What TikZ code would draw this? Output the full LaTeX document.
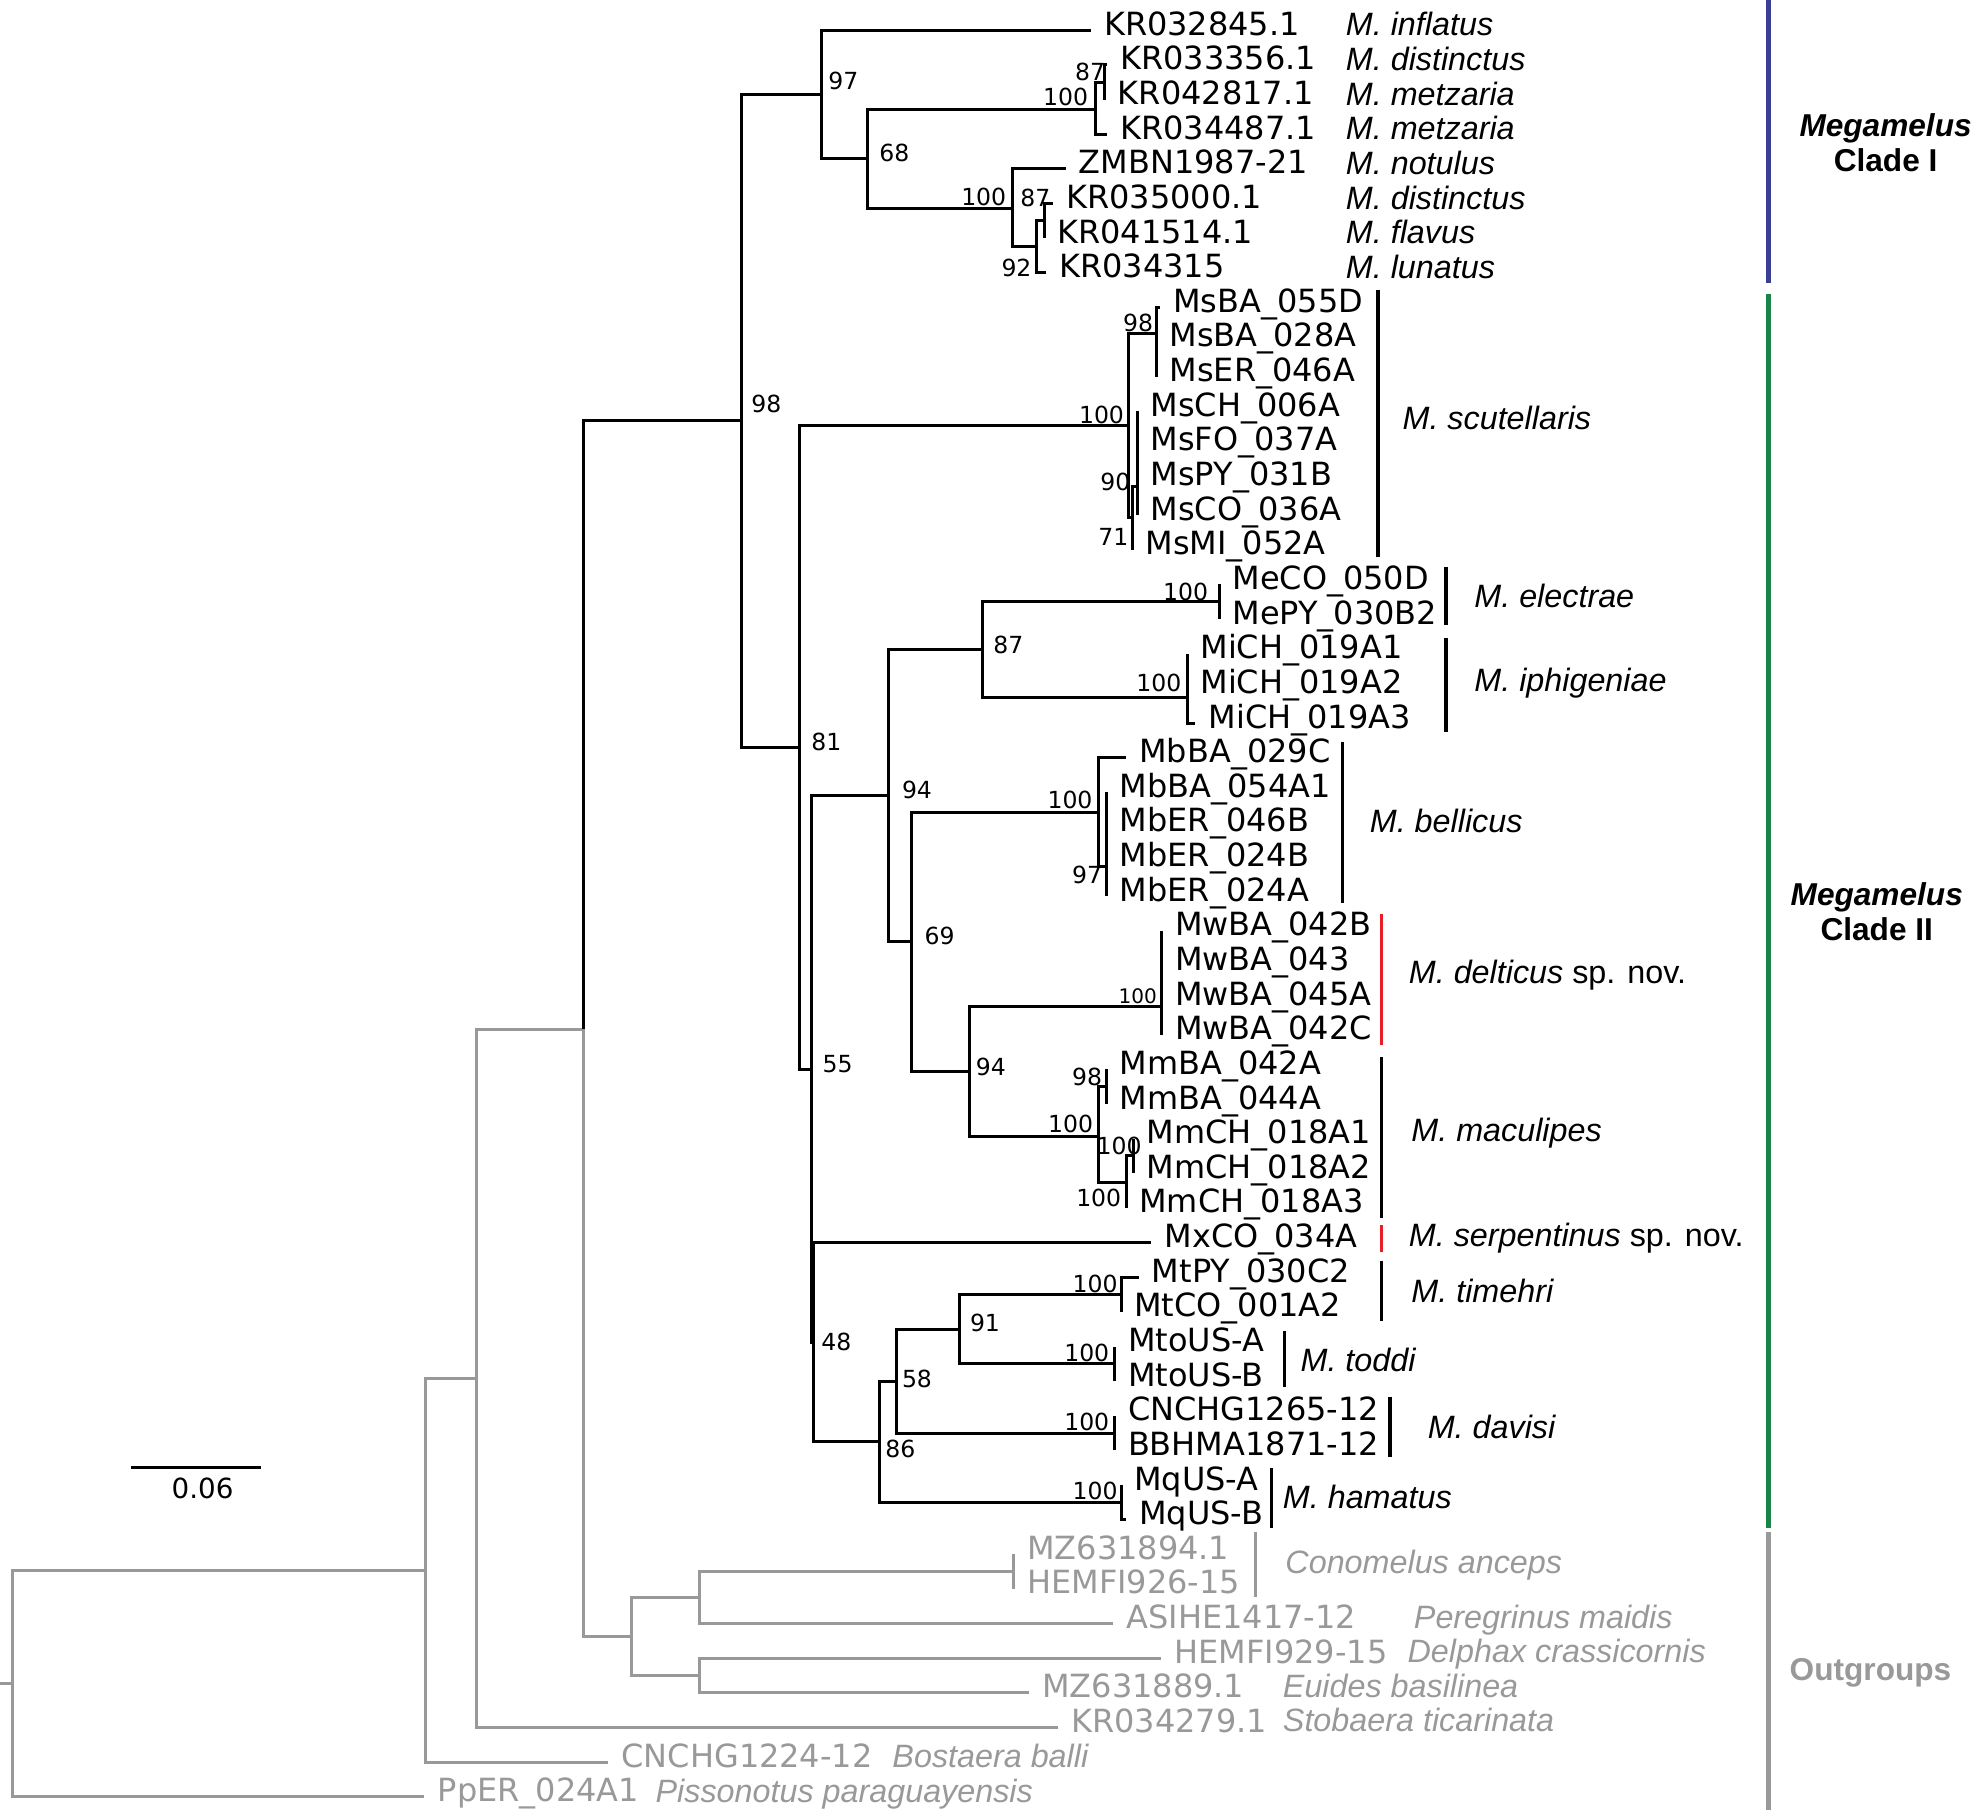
\documentclass[tikz,border=0pt]{standalone}
\usepackage{fontspec}
\setmainfont{Liberation Sans}
\newfontfamily\tipfont{DejaVu Sans}
\usepackage{tikz}
\usetikzlibrary{positioning}
\colorlet{ogcol}{black!40}
\definecolor{cladeIcol}{RGB}{60,62,150}
\definecolor{cladeIIcol}{RGB}{24,132,72}
\definecolor{novcol}{RGB}{232,32,38}
\tikzset{
  br/.style={line width=0.85pt,black},
  og/.style={line width=0.85pt,ogcol},
  grpbar/.style={line width=0.9pt},
  cladebar/.style={line width=1.4pt},
  tip/.style={font=\tipfont\fontsize{9.1}{10}\selectfont,anchor=base west,inner sep=0pt,xshift=0.126cm,yshift=-0.05cm},
  sp/.style={font=\fontsize{9.2}{11}\selectfont\itshape,anchor=base west,inner sep=0pt},
  bs/.style={font=\tipfont\fontsize{6.7}{8}\selectfont,inner sep=0pt},
  clade/.style={font=\fontsize{9}{10}\selectfont\bfseries,align=center,inner sep=0pt}
}

\begin{document}
\begin{tikzpicture}[x=0.0126cm,y=-0.0126cm]
  \useasboundingbox (0,0) rectangle (1568,1441);
  % tips
  \foreach \i/\x/\lab in {1/866/KR032845.1, 2/879/KR033356.1, 3/877/KR042817.1,
      4/879/KR034487.1, 5/846/ZMBN1987-21, 6/836/KR035000.1, 7/829/KR041514.1,
      8/830.5/KR034315, 9/921/MsBA\_055D, 10/918/MsBA\_028A, 11/918/MsER\_046A,
      12/903/MsCH\_006A, 13/903/MsFO\_037A, 14/903/MsPY\_031B, 15/903/MsCO\_036A,
      16/899/MsMI\_052A, 17/968/MeCO\_050D, 18/968/MePY\_030B2, 19/942.5/MiCH\_019A1,
      20/942.5/MiCH\_019A2, 21/949/MiCH\_019A3, 22/894/MbBA\_029C, 23/878.5/MbBA\_054A1,
      24/878.5/MbER\_046B, 25/878.5/MbER\_024B, 26/878.5/MbER\_024A, 27/922.3/MwBA\_042B,
      28/922.3/MwBA\_043, 29/922.3/MwBA\_045A, 30/922.3/MwBA\_042C, 31/878.5/MmBA\_042A,
      32/878.5/MmBA\_044A, 33/900/MmCH\_018A1, 34/900/MmCH\_018A2, 35/894/MmCH\_018A3,
      36/914/MxCO\_034A, 37/904/MtPY\_030C2, 38/890/MtCO\_001A2, 39/885/MtoUS-A,
      40/885/MtoUS-B, 41/885/CNCHG1265-12, 42/885/BBHMA1871-12, 43/890/MqUS-A, 44/894/MqUS-B}{
    \coordinate (t\i) at (\x,{24+27.5*(\i-1)});
    \node[tip] (l\i) at (t\i) {\lab};
  }
  \foreach \i/\x/\lab in {45/805/MZ631894.1, 46/805/HEMFI926-15, 47/884/ASIHE1417-12,
      48/922/HEMFI929-15, 49/817/MZ631889.1, 50/840/KR034279.1, 51/483/CNCHG1224-12,
      52/337/PpER\_024A1}{
    \coordinate (t\i) at (\x,{24+27.5*(\i-1)});
    \node[tip,ogcol] (l\i) at (t\i) {\lab};
  }

  % internal nodes
  \coordinate (rs) at (0,1336.5);
  \coordinate (root) at (10.3,1336.5);
  \coordinate (o1) at (338,1246.6);
  \coordinate (o2) at (378,1094.2);
  \coordinate (o3) at (463,817);
  \coordinate (o4) at (501,1299.3);
  \coordinate (o5) at (555,1268.4);
  \coordinate (o6) at (805,1247.75);
  \coordinate (o7) at (555,1330.25);
  \coordinate (n98) at (588.7,334);
  \coordinate (c97) at (652.5,75.1);
  \coordinate (c68) at (688.6,126.2);
  \coordinate (cKR) at (870,86.8);
  \coordinate (cKRs) at (877,65.25);
  \coordinate (cZM) at (804,165.5);
  \coordinate (c92) at (823,195.9);
  \coordinate (c87) at (829,175.25);
  \coordinate (n81) at (634.7,593.5);
  \coordinate (ms) at (895.6,337.8);
  \coordinate (msBA) at (918,264.6);
  \coordinate (ms71) at (899,411);
  \coordinate (ms90) at (903,386);
  \coordinate (n55) at (644,849);
  \coordinate (n94a) at (705.6,631.5);
  \coordinate (n87) at (780.4,515.6);
  \coordinate (me) at (968,477.75);
  \coordinate (mi) at (942.5,553.4);
  \coordinate (n69) at (723.8,747.4);
  \coordinate (mb) at (872,644.75);
  \coordinate (mb97) at (878.5,688);
  \coordinate (n94b) at (769.5,850.3);
  \coordinate (mw) at (922.3,798.7);
  \coordinate (mm) at (871.8,902);
  \coordinate (mm98) at (878.5,862.75);
  \coordinate (mmA) at (894,938.5);
  \coordinate (mmB) at (900,917.75);
  \coordinate (n48) at (645.6,1065.6);
  \coordinate (n86) at (698.6,1144.6);
  \coordinate (n58) at (712,1096.5);
  \coordinate (n91) at (761.5,1055.25);
  \coordinate (mt) at (890,1027.75);
  \coordinate (mto) at (885,1082.75);
  \coordinate (mcn) at (885,1137.75);
  \coordinate (mq) at (890,1192.75);

  % outgroup branches
  \draw[og] (rs) -- (root);
  \draw[og] (root) |- (o1);
  \draw[og] (root) |- (t52);
  \draw[og] (o1) |- (o2);
  \draw[og] (o1) |- (t51);
  \draw[og] (o2) |- (o3);
  \draw[og] (o2) |- (t50);
  \draw[og] (o3) |- (o4);
  \draw[og] (o4) |- (o5);
  \draw[og] (o4) |- (o7);
  \draw[og] (o5) |- (o6);
  \draw[og] (o5) |- (t47);
  \draw[og] (o6) |- (t45);
  \draw[og] (o6) |- (t46);
  \draw[og] (o7) |- (t48);
  \draw[og] (o7) |- (t49);

  % Megamelus branches
  \draw[br] (o3) |- (n98);
  \draw[br] (n98) |- (c97);
  \draw[br] (n98) |- (n81);
  \draw[br] (c97) |- (t1);
  \draw[br] (c97) |- (c68);
  \draw[br] (c68) |- (cKR);
  \draw[br] (c68) |- (cZM);
  \draw[br] (cKR) |- (cKRs);
  \draw[br] (cKR) |- (t4);
  \draw[br] (cKRs) |- (t2);
  \draw[br] (cKRs) |- (t3);
  \draw[br] (cZM) |- (t5);
  \draw[br] (cZM) |- (c92);
  \draw[br] (c92) |- (c87);
  \draw[br] (c92) |- (t8);
  \draw[br] (c87) |- (t6);
  \draw[br] (c87) |- (t7);
  \draw[br] (n81) |- (ms);
  \draw[br] (n81) |- (n55);
  \draw[br] (ms) |- (msBA);
  \draw[br] (ms) |- (ms71);
  \foreach \c in {t9,t10,t11} \draw[br] (msBA) |- (\c);
  \draw[br] (ms71) |- (ms90);
  \draw[br] (ms71) |- (t16);
  \foreach \c in {t12,t13,t14,t15} \draw[br] (ms90) |- (\c);
  \draw[br] (n55) |- (n94a);
  \draw[br] (n55) |- (n48);
  \draw[br] (n94a) |- (n87);
  \draw[br] (n94a) |- (n69);
  \draw[br] (n87) |- (me);
  \draw[br] (n87) |- (mi);
  \foreach \c in {t17,t18} \draw[br] (me) |- (\c);
  \foreach \c in {t19,t20,t21} \draw[br] (mi) |- (\c);
  \draw[br] (n69) |- (mb);
  \draw[br] (n69) |- (n94b);
  \draw[br] (mb) |- (t22);
  \draw[br] (mb) |- (mb97);
  \foreach \c in {t23,t24,t25,t26} \draw[br] (mb97) |- (\c);
  \draw[br] (n94b) |- (mw);
  \draw[br] (n94b) |- (mm);
  \foreach \c in {t27,t28,t29,t30} \draw[br] (mw) |- (\c);
  \draw[br] (mm) |- (mm98);
  \draw[br] (mm) |- (mmA);
  \foreach \c in {t31,t32} \draw[br] (mm98) |- (\c);
  \draw[br] (mmA) |- (mmB);
  \draw[br] (mmA) |- (t35);
  \foreach \c in {t33,t34} \draw[br] (mmB) |- (\c);
  \draw[br] (n48) |- (t36);
  \draw[br] (n48) |- (n86);
  \draw[br] (n86) |- (n58);
  \draw[br] (n86) |- (mq);
  \draw[br] (n58) |- (n91);
  \draw[br] (n58) |- (mcn);
  \draw[br] (n91) |- (mt);
  \draw[br] (n91) |- (mto);
  \foreach \c in {t37,t38} \draw[br] (mt) |- (\c);
  \foreach \c in {t39,t40} \draw[br] (mto) |- (\c);
  \foreach \c in {t41,t42} \draw[br] (mcn) |- (\c);
  \foreach \c in {t43,t44} \draw[br] (mq) |- (\c);

  % bootstrap values
  \foreach \x/\y/\v [count=\k] in {669.5/64.5/97, 865.5/57/87, 846/77/100, 710/121.7/68,
      781/156/100, 822/157/87, 807/213/92, 608.5/321/98, 903.5/256.6/98, 874.5/329.5/100,
      885.5/383/90, 884/426/71, 941.3/469.7/100, 800.5/512/87, 920/542/100, 656/589/81,
      728/627/94, 849.5/635/100, 863/694.7/97, 746/743/69, 786.6/846.8/94, 863/854.8/98,
      850/892.3/100, 888.5/910/100, 872.3/951/100, 665/844.7/55, 664/1065/48, 782/1050/91,
      869.5/1019/100, 728/1095/58, 862.8/1074.4/100, 714.8/1150.5/86, 862.8/1128.7/100,
      869.5/1184/100}
    \node[bs] (b\k) at (\x,\y) {\v};
  \node[bs,font=\tipfont\fontsize{5.7}{7}\selectfont] (bMw) at (903.3,791) {100};

  % species, clade I
  \foreach \i/\sp in {1/inflatus, 2/distinctus, 3/metzaria, 4/metzaria, 5/notulus,
      6/distinctus, 7/flavus, 8/lunatus}
    \node[sp] (s\i) at (1068,{28.5+27.5*(\i-1)}) {M. \sp};

  % species bars, clade II
  \coordinate (gMs1) at (1094,230);    \coordinate (gMs2) at (1094,442);
  \coordinate (gMe1) at (1148,450);    \coordinate (gMe2) at (1148,496);
  \coordinate (gMi1) at (1148,506.5);  \coordinate (gMi2) at (1148,581);
  \coordinate (gMb1) at (1066,589);    \coordinate (gMb2) at (1066,717);
  \coordinate (gMw1) at (1096.5,725.6); \coordinate (gMw2) at (1096.5,829.6);
  \coordinate (gMm1) at (1096.5,839);  \coordinate (gMm2) at (1096.5,967);
  \coordinate (gMx1) at (1096.5,972.6); \coordinate (gMx2) at (1096.5,993.7);
  \coordinate (gMt1) at (1097,1001);   \coordinate (gMt2) at (1097,1049);
  \coordinate (gMo1) at (1020,1057);   \coordinate (gMo2) at (1020,1101);
  \coordinate (gMd1) at (1103.6,1108.8); \coordinate (gMd2) at (1103.6,1157);
  \coordinate (gMq1) at (1009.4,1165.5); \coordinate (gMq2) at (1009.4,1213);
  \coordinate (gCo1) at (996.5,1216);  \coordinate (gCo2) at (996.5,1268);
  \foreach \g in {Ms,Me,Mi,Mb,Mm,Mt,Mo,Md,Mq}
    \draw[grpbar] (g\g1) -- (g\g2);
  \draw[grpbar,novcol] (gMw1) -- (gMw2);
  \draw[grpbar,novcol] (gMx1) -- (gMx2);
  \draw[grpbar,ogcol] (gCo1) -- (gCo2);

  \node[sp] (sMs) at (1113,341) {M. scutellaris};
  \node[sp] (sMe) at (1170,482) {M. electrae};
  \node[sp] (sMi) at (1170,549) {M. iphigeniae};
  \node[sp] (sMb) at (1087,661) {M. bellicus};
  \node[sp] (sMw) at (1118,781) {M. delticus \textup{sp. nov.}};
  \node[sp] (sMm) at (1120,906) {M. maculipes};
  \node[sp] (sMx) at (1118,990) {M. serpentinus \textup{sp. nov.}};
  \node[sp] (sMt) at (1120,1034) {M. timehri};
  \node[sp] (sMo) at (1032,1089) {M. toddi};
  \node[sp] (sMd) at (1133,1142) {M. davisi};
  \node[sp] (sMq) at (1018,1198) {M. hamatus};

  % outgroup species
  \node[sp,ogcol] (sCo) at (1020,1249) {Conomelus anceps};
  \node[sp,ogcol] (sPe) at (1122,1293) {Peregrinus maidis};
  \node[sp,ogcol] (sDe) at (1117,1320) {Delphax crassicornis};
  \node[sp,ogcol] (sEu) at (1018,1348) {Euides basilinea};
  \node[sp,ogcol] (sSt) at (1018,1375) {Stobaera ticarinata};
  \node[sp,ogcol] (sBo) at (708,1403) {Bostaera balli};
  \node[sp,ogcol] (sPi) at (520,1431) {Pissonotus paraguayensis};

  % clade bars
  \coordinate (kI1) at (1404,0);      \coordinate (kI2) at (1404,225);
  \coordinate (kII1) at (1404,233.6); \coordinate (kII2) at (1404,1213);
  \coordinate (kO1) at (1404,1216);   \coordinate (kO2) at (1404,1437);
  \draw[cladebar,cladeIcol] (kI1) -- (kI2);
  \draw[cladebar,cladeIIcol] (kII1) -- (kII2);
  \draw[cladebar,ogcol] (kO1) -- (kO2);
  \node[clade] (cI) at (1497,113) {\textit{Megamelus}\\Clade I};
  \node[clade] (cII) at (1490,724) {\textit{Megamelus}\\Clade II};
  \node[clade,ogcol] (cO) at (1485,1328) {Outgroups};

  % scale bar
  \coordinate (sb1) at (104,1165);
  \coordinate (sb2) at (207,1165);
  \draw[br] (sb1) -- (sb2);
  \node[bs,font=\tipfont\fontsize{7.9}{9}\selectfont] (sbl) at (160.8,1182) {0.06};
\end{tikzpicture}
\end{document}
